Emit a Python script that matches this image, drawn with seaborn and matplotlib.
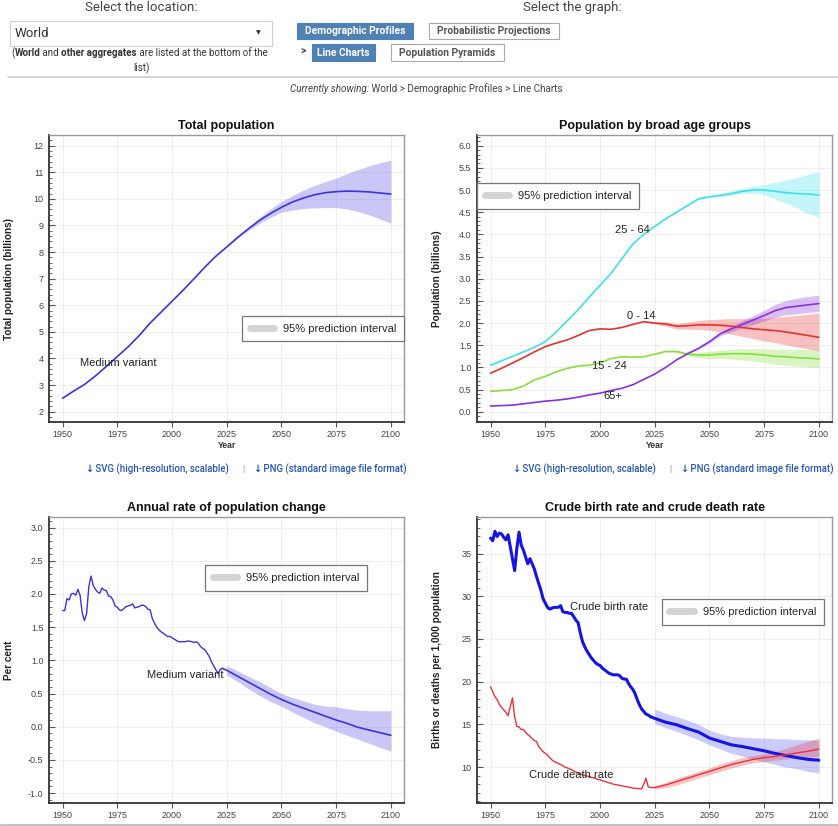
import numpy as np
import pandas as pd
import seaborn as sns
import matplotlib.pyplot as plt
from matplotlib.ticker import MultipleLocator
from matplotlib.lines import Line2D
from matplotlib.patches import Rectangle

# ---- data ----
years5 = list(range(1950, 2101, 5))
proj_years = list(range(2025, 2101, 5))

total_pop = [2.50, 2.77, 3.02, 3.34, 3.70, 4.07, 4.44, 4.86, 5.33, 5.74, 6.15, 6.56, 6.99, 7.43, 7.84,
             8.19, 8.55, 8.88, 9.19, 9.45, 9.68, 9.88, 10.03, 10.15, 10.23, 10.27, 10.29, 10.28, 10.26, 10.22, 10.18]
total_lo = [8.18, 8.52, 8.82, 9.08, 9.30, 9.50, 9.58, 9.63, 9.66, 9.67, 9.67, 9.62, 9.52, 9.40, 9.25, 9.08]
total_hi = [8.20, 8.58, 8.94, 9.30, 9.62, 9.90, 10.12, 10.33, 10.50, 10.65, 10.78, 10.95, 11.10, 11.24, 11.36, 11.45]

age_25_64 = [1.05, 1.15, 1.25, 1.35, 1.45, 1.58, 1.80, 2.05, 2.30, 2.58, 2.85, 3.12, 3.45, 3.78, 4.00,
             4.18, 4.35, 4.50, 4.65, 4.80, 4.85, 4.88, 4.92, 4.97, 5.00, 5.00, 4.97, 4.94, 4.92, 4.91, 4.89]
age_25_64_lo = [4.17, 4.34, 4.49, 4.64, 4.78, 4.83, 4.85, 4.88, 4.92, 4.93, 4.90, 4.80, 4.70, 4.60, 4.48, 4.38]
age_25_64_hi = [4.19, 4.36, 4.51, 4.66, 4.82, 4.87, 4.91, 4.97, 5.03, 5.08, 5.12, 5.17, 5.22, 5.28, 5.35, 5.42]

age_0_14 = [0.87, 0.98, 1.10, 1.22, 1.35, 1.47, 1.55, 1.62, 1.72, 1.83, 1.87, 1.86, 1.90, 1.97, 2.03,
            2.00, 1.98, 1.93, 1.94, 1.96, 1.96, 1.95, 1.93, 1.90, 1.87, 1.85, 1.83, 1.80, 1.76, 1.72, 1.68]
age_0_14_lo = [1.98, 1.93, 1.87, 1.86, 1.86, 1.84, 1.80, 1.75, 1.70, 1.65, 1.60, 1.56, 1.51, 1.46, 1.42, 1.37]
age_0_14_hi = [2.02, 2.03, 1.99, 2.02, 2.06, 2.08, 2.09, 2.10, 2.10, 2.10, 2.11, 2.13, 2.15, 2.17, 2.20, 2.23]

age_15_24 = [0.46, 0.48, 0.50, 0.58, 0.72, 0.80, 0.90, 0.98, 1.03, 1.05, 1.10, 1.20, 1.24, 1.23, 1.24,
             1.30, 1.36, 1.36, 1.30, 1.28, 1.28, 1.30, 1.31, 1.31, 1.30, 1.28, 1.25, 1.24, 1.22, 1.21, 1.19]
age_15_24_lo = [1.29, 1.35, 1.34, 1.26, 1.22, 1.20, 1.20, 1.19, 1.17, 1.14, 1.11, 1.07, 1.05, 1.03, 1.01, 0.99]
age_15_24_hi = [1.31, 1.37, 1.38, 1.34, 1.34, 1.36, 1.39, 1.41, 1.42, 1.42, 1.42, 1.41, 1.41, 1.41, 1.41, 1.40]

age_65 = [0.13, 0.14, 0.15, 0.18, 0.21, 0.24, 0.26, 0.29, 0.33, 0.38, 0.42, 0.48, 0.53, 0.61, 0.73,
          0.85, 1.00, 1.17, 1.31, 1.43, 1.58, 1.76, 1.87, 1.97, 2.07, 2.17, 2.28, 2.35, 2.38, 2.41, 2.44]
age_65_lo = [0.85, 1.00, 1.17, 1.30, 1.41, 1.55, 1.71, 1.81, 1.89, 1.97, 2.05, 2.13, 2.19, 2.21, 2.24, 2.26]
age_65_hi = [0.85, 1.00, 1.17, 1.32, 1.45, 1.61, 1.80, 1.93, 2.05, 2.17, 2.29, 2.42, 2.51, 2.56, 2.60, 2.63]

hist_years = list(range(1950, 2024))
proj_years_b = [2023] + proj_years

growth_hist = [1.75, 1.75, 1.93, 1.91, 2.00, 2.01, 1.98, 2.07, 1.98, 1.71,
               1.60, 1.71, 2.11, 2.27, 2.13, 2.07, 2.03, 2.01, 2.09, 2.06,
               2.05, 1.97, 1.96, 1.91, 1.82, 1.80, 1.76, 1.75, 1.78, 1.81,
               1.82, 1.83, 1.85, 1.79, 1.80, 1.81, 1.83, 1.83, 1.81, 1.77,
               1.76, 1.63, 1.56, 1.50, 1.46, 1.43, 1.41, 1.38, 1.36, 1.36,
               1.34, 1.32, 1.30, 1.28, 1.28, 1.28, 1.28, 1.29, 1.29, 1.28,
               1.27, 1.28, 1.26, 1.21, 1.18, 1.16, 1.11, 1.06, 0.98, 0.92,
               0.86, 0.80, 0.86, 0.88]
growth_proj = [0.88, 0.85, 0.76, 0.67, 0.58, 0.49, 0.41, 0.34, 0.28, 0.22, 0.16, 0.10, 0.05, -0.01, -0.05, -0.09, -0.13]
growth_lo = [0.80, 0.78, 0.68, 0.57, 0.47, 0.38, 0.31, 0.22, 0.14, 0.06, 0.00, -0.07, -0.13, -0.19, -0.25, -0.31, -0.37]
growth_hi = [0.94, 0.92, 0.84, 0.76, 0.68, 0.59, 0.50, 0.44, 0.39, 0.34, 0.31, 0.30, 0.27, 0.25, 0.24, 0.24, 0.24]

cbr_hist = [36.8, 36.5, 37.6, 37.0, 37.4, 37.3, 36.9, 36.6, 37.2, 35.8,
            34.4, 33.0, 35.6, 37.5, 36.0, 35.4, 34.6, 33.8, 34.4, 33.8,
            33.2, 32.3, 31.5, 30.7, 29.7, 29.2, 28.7, 28.5, 28.6, 28.7,
            28.7, 28.7, 28.9, 28.2, 28.1, 28.1, 28.0, 28.0, 27.6, 27.2,
            26.9, 25.7, 24.7, 24.1, 23.6, 23.2, 22.8, 22.5, 22.2, 22.0,
            21.9, 21.6, 21.4, 21.2, 21.0, 20.9, 20.8, 20.8, 20.8, 20.7,
            20.4, 20.3, 20.3, 19.8, 19.4, 19.1, 18.6, 17.9, 17.3, 16.8,
            16.5, 16.2, 16.1, 15.9]
cbr_proj = [15.9, 15.7, 15.25, 14.95, 14.5, 14.1, 13.4, 13.0, 12.6, 12.4, 12.15, 11.9, 11.6, 11.35, 11.1, 10.9, 10.8]
cbr_lo = [15.6, 15.1, 14.6, 14.2, 13.7, 13.2, 12.6, 12.1, 11.6, 11.3, 10.9, 10.6, 10.3, 10.0, 9.8, 9.5, 9.3]
cbr_hi = [16.3, 16.8, 16.3, 15.9, 15.5, 15.0, 14.3, 13.9, 13.6, 13.5, 13.4, 13.4, 13.3, 13.3, 13.2, 13.2, 13.1]

cdr_hist = [19.4, 18.8, 18.25, 17.9, 17.35, 17.0, 16.7, 16.4, 16.0, 17.1,
            18.1, 15.9, 14.75, 14.7, 14.4, 14.4, 14.05, 13.8, 13.6, 13.3,
            13.1, 13.0, 12.4, 12.1, 11.8, 11.6, 11.4, 11.1, 10.85, 10.65,
            10.55, 10.4, 10.3, 10.15, 10.0, 9.9, 9.8, 9.7, 9.55, 9.4,
            9.3, 9.2, 9.1, 9.0, 8.95, 8.9, 8.8, 8.75, 8.65, 8.55,
            8.5, 8.4, 8.35, 8.25, 8.15, 8.1, 8.0, 7.95, 7.9, 7.85,
            7.8, 7.75, 7.7, 7.65, 7.6, 7.55, 7.5, 7.5, 7.45, 7.45,
            8.0, 8.7, 7.7, 7.6]
cdr_proj = [7.6, 7.6, 7.9, 8.3, 8.7, 9.1, 9.5, 9.9, 10.3, 10.6, 10.9, 11.1, 11.25, 11.45, 11.65, 11.85, 12.1]
cdr_lo = [7.5, 7.4, 7.6, 7.9, 8.3, 8.7, 9.1, 9.5, 9.9, 10.2, 10.5, 10.65, 10.8, 10.95, 11.05, 11.15, 11.25]
cdr_hi = [7.7, 7.8, 8.2, 8.7, 9.1, 9.5, 9.9, 10.35, 10.75, 11.1, 11.35, 11.55, 11.8, 12.2, 12.6, 13.0, 13.4]

x_ticks = [1950, 1975, 2000, 2025, 2050, 2075, 2100]

# ---- style ----
sns.set_theme(style="white")
plt.rcParams['font.family'] = ['Liberation Sans', 'DejaVu Sans']
plt.rcParams['axes.unicode_minus'] = False

W, H = 838, 826
fig = plt.figure(figsize=(W / 100, H / 100), dpi=100)
fig.patch.set_facecolor('white')


def fx(px):
    return px / W


def fy(py):
    return 1 - py / H


def text_runs(x_px, y_px, runs, size, color='#333', family=('Roboto', 'DejaVu Sans')):
    renderer = fig.canvas.get_renderer()
    x = x_px
    for s, weight, style_ in runs:
        t = fig.text(fx(x), fy(y_px), s, fontsize=size, fontweight=weight, fontstyle=style_,
                     va='center', ha='left', color=color, family=list(family))
        x += t.get_window_extent(renderer).width


def box(x0, y0, x1, y1, face, edge):
    fig.add_artist(Rectangle((fx(x0), fy(y1)), fx(x1) - fx(x0), fy(y0) - fy(y1),
                             transform=fig.transFigure, facecolor=face, edgecolor=edge, lw=0.8))


# ---- page header ----
hfont = ['Roboto', 'DejaVu Sans']
fig.text(fx(141), fy(11), "Select the location:", ha='center', va='baseline', fontsize=9.5, color='#444', family=hfont)
fig.text(fx(572), fy(11), "Select the graph:", ha='center', va='baseline', fontsize=9.5, color='#444', family=hfont)
box(10, 20.5, 272, 45.5, 'white', '#d0d0d0')
fig.text(fx(15), fy(33.5), "World", va='center', fontsize=9.5, color='#333', family=hfont)
fig.text(fx(258), fy(33), "\u25BC", va='center', ha='center', fontsize=4.5, color='#333', family=['DejaVu Sans'])
text_runs(11, 53, [("(", 'normal', 'normal'), ("World", 'bold', 'normal'), (" and ", 'normal', 'normal'),
                   ("other aggregates", 'bold', 'normal'),
                   (" are listed at the bottom of the", 'normal', 'normal')], 7)
fig.text(fx(141), fy(68), "list)", ha='center', va='center', fontsize=7, color='#333', family=hfont)

box(297, 22.7, 413, 39.3, '#4f81b4', '#4f81b4')
fig.text(fx(355), fy(31), "Demographic Profiles", ha='center', va='center', fontsize=7.4,
         fontweight='bold', color='white', family=hfont)
box(429, 22.7, 559, 39.3, 'white', '#aaaaaa')
fig.text(fx(494), fy(31), "Probabilistic Projections", ha='center', va='center', fontsize=7.4,
         fontweight='bold', color='#555', family=hfont)
fig.text(fx(303), fy(51), ">", ha='center', va='center', fontsize=7.5, fontweight='bold', color='#444', family=hfont)
box(312, 44, 375, 61, '#4f81b4', '#4f81b4')
fig.text(fx(343.5), fy(52.5), "Line Charts", ha='center', va='center', fontsize=7.4,
         fontweight='bold', color='white', family=hfont)
box(391, 44, 504, 61, 'white', '#aaaaaa')
fig.text(fx(447.5), fy(52.5), "Population Pyramids", ha='center', va='center', fontsize=7.4,
         fontweight='bold', color='#555', family=hfont)

fig.add_artist(Line2D([fx(8), fx(838)], [fy(77), fy(77)], transform=fig.transFigure, color='#cccccc', lw=1.2))
text_runs(290, 89, [("Currently showing:", 'normal', 'italic'),
                    (" World > Demographic Profiles > Line Charts", 'normal', 'normal')], 7.1, color='#444')

link_col = '#2557b5'
for start in (85, 512):
    text_runs(start, 469, [("\u2193", 'bold', 'normal'),
                           (" SVG (high-resolution, scalable)", 'medium', 'normal')], 6.9, color=link_col)
    fig.text(fx(start + 158), fy(469), "|", va='center', ha='center', fontsize=6.5, color='#888', family=hfont)
    text_runs(start + 168, 469, [("\u2193", 'bold', 'normal'),
                                 (" PNG (standard image file format)", 'medium', 'normal')], 6.9, color=link_col)

fig.add_artist(Line2D([0, 1], [fy(825), fy(825)], transform=fig.transFigure, color='#c0c0c0', lw=2))


# ---- charts ----
def style_axes(ax, title, ylabel, ylim, major, minor, show_xlabel=True):
    ax.set_xlim(1943.8, 2106)
    ax.set_ylim(*ylim)
    ax.set_xticks(x_ticks)
    ax.yaxis.set_major_locator(MultipleLocator(major))
    ax.yaxis.set_minor_locator(MultipleLocator(minor))
    ax.tick_params(axis='y', which='both', direction='in', color='#555', labelcolor='#444',
                   labelsize=6.5, pad=4, left=True)
    ax.tick_params(axis='y', which='major', length=4, width=0.8)
    ax.tick_params(axis='y', which='minor', length=2, width=0.6)
    ax.tick_params(axis='x', which='major', direction='out', length=3.5, width=0.8, color='#555',
                   labelcolor='#444', labelsize=6.5, pad=2.5, bottom=True)
    ax.grid(True, which='major', color='#ededed', lw=0.6)
    for side in ('left', 'bottom'):
        ax.spines[side].set_color('#333')
        ax.spines[side].set_linewidth(1.3)
    for side in ('top', 'right'):
        ax.spines[side].set_color('#999')
        ax.spines[side].set_linewidth(1.0)
    ax.set_title(title, fontsize=9, fontweight='bold', pad=4, color='#111')
    ax.set_ylabel(ylabel, fontsize=7.2, fontweight='bold', color='#222')
    ax.yaxis.set_label_coords(-0.099, 0.5)
    if show_xlabel:
        ax.set_xlabel("Year", fontsize=6.2, fontweight='bold', color='#333')
        ax.xaxis.set_label_coords(0.5, -0.065)
    else:
        ax.set_xlabel("")


def add_legend(ax, loc, anchor):
    leg = ax.legend(handles=[Line2D([], [], color='#d4d4d4', lw=5)], labels=['95% prediction interval'],
                    loc=loc, bbox_to_anchor=anchor, borderaxespad=0, frameon=True, fancybox=False,
                    edgecolor='#777', framealpha=1, fontsize=8, handlelength=2.2, borderpad=0.7,
                    handletextpad=0.8)
    leg.get_frame().set_linewidth(0.9)


ax1 = fig.add_axes([fx(49), fy(422), 355 / W, 287 / H])
ax2 = fig.add_axes([fx(477), fy(422), 355 / W, 287 / H])
ax3 = fig.add_axes([fx(49), fy(803), 355 / W, 286 / H])
ax4 = fig.add_axes([fx(477), fy(803), 355 / W, 286 / H])

# Total population
blue = '#3b33e0'
ax1.fill_between(proj_years, total_lo, total_hi, color=blue, alpha=0.27, lw=0)
sns.lineplot(x=years5, y=total_pop, color=blue, lw=1.2, ax=ax1)
ax1.text(1957.9, 3.84, "Medium variant", fontsize=8, color='#222', va='center', ha='left')
style_axes(ax1, "Total population", "Total population (billions)", (1.61, 12.4), 1, 0.2)
add_legend(ax1, 'upper right', (1.0, 0.37))

# Broad age groups
groups = [
    (age_25_64, age_25_64_lo, age_25_64_hi, '#3ee0ee'),
    (age_0_14, age_0_14_lo, age_0_14_hi, '#e8302f'),
    (age_15_24, age_15_24_lo, age_15_24_hi, '#86e03a'),
    (age_65, age_65_lo, age_65_hi, '#8a30e0'),
]
for mid, lo, hi, col in groups:
    ax2.fill_between(proj_years, lo, hi, color=col, alpha=0.3, lw=0)
for mid, lo, hi, col in groups:
    sns.lineplot(x=years5, y=mid, color=col, lw=1.2, ax=ax2)
for label, xx, yy in [("25 - 64", 2014.6, 4.10), ("0 - 14", 2019.0, 2.16),
                      ("15 - 24", 2004.5, 1.03), ("65+", 2005.7, 0.35)]:
    ax2.text(xx, yy, label, fontsize=8, color='#222', ha='center', va='center')
style_axes(ax2, "Population by broad age groups", "Population (billions)", (-0.23, 6.24), 0.5, 0.1)
add_legend(ax2, 'upper left', (0.0, 0.832))

# Annual rate of population change
ax3.fill_between(proj_years_b[1:], growth_lo[1:], growth_hi[1:], color=blue, alpha=0.27, lw=0)
sns.lineplot(x=hist_years, y=growth_hist, color=blue, lw=1.0, ax=ax3)
sns.lineplot(x=proj_years_b, y=growth_proj, color=blue, lw=1.2, ax=ax3)
ax3.text(1988.4, 0.78, "Medium variant", fontsize=8, color='#222', va='center', ha='left')
style_axes(ax3, "Annual rate of population change", "Per cent", (-1.15, 3.16), 0.5, 0.1, show_xlabel=False)
add_legend(ax3, 'upper left', (0.439, 0.832))

# Crude birth and death rates
bcol = '#1414e6'
dcol = '#e8333a'
ax4.fill_between(proj_years_b[1:], cbr_lo[1:], cbr_hi[1:], color=bcol, alpha=0.22, lw=0)
ax4.fill_between(proj_years_b[1:], cdr_lo[1:], cdr_hi[1:], color=dcol, alpha=0.3, lw=0)
sns.lineplot(x=hist_years, y=cbr_hist, color=bcol, lw=2.2, ax=ax4)
sns.lineplot(x=proj_years_b, y=cbr_proj, color=bcol, lw=2.2, ax=ax4)
sns.lineplot(x=hist_years, y=cdr_hist, color=dcol, lw=1.0, ax=ax4)
sns.lineplot(x=proj_years_b, y=cdr_proj, color=dcol, lw=1.0, ax=ax4)
ax4.text(1986.5, 28.76, "Crude birth rate", fontsize=8, color='#222', va='center', ha='left')
ax4.text(1967.6, 9.1, "Crude death rate", fontsize=8, color='#222', va='center', ha='left')
style_axes(ax4, "Crude birth rate and crude death rate", "Births or deaths per 1,000 population",
           (5.79, 39.28), 5, 1, show_xlabel=False)
add_legend(ax4, 'upper left', (0.52, 0.712))

fig.savefig("out.png", dpi=100)
